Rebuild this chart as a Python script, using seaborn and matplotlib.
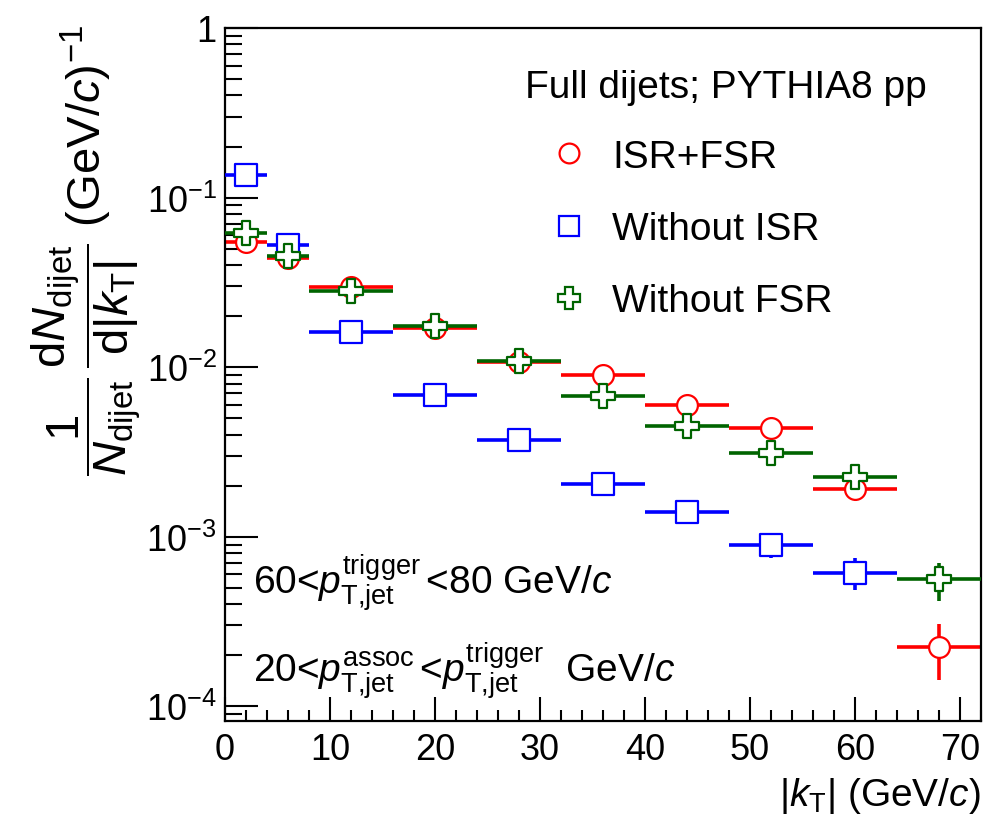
import numpy as np
import pandas as pd
import matplotlib
matplotlib.use("Agg")
import matplotlib.pyplot as plt
import seaborn as sns
from matplotlib.lines import Line2D
from matplotlib.ticker import LogLocator, FuncFormatter, MultipleLocator, NullFormatter

# ---- data ----
bin_edges = [0, 4, 8, 16, 24, 32, 40, 48, 56, 64, 72]
isr_fsr = [0.0544, 0.0441, 0.0299, 0.0170, 0.01066, 0.00901, 0.00597, 0.00437, 0.00192, 0.000224]
isr_fsr_err = [0.0005, 0.0005, 0.0004, 0.0003, 0.0002, 0.0002, 0.00015, 0.00012, 0.00028, 0.00008]
no_isr = [0.136, 0.0527, 0.0161, 0.00684, 0.00372, 0.00204, 0.00140, 0.000895, 0.000615]
no_isr_err = [0.001, 0.0006, 0.0003, 0.00015, 0.0001, 0.00007, 0.00006, 0.00015, 0.00013]
no_fsr = [0.0620, 0.0455, 0.0282, 0.01753, 0.01084, 0.00677, 0.00451, 0.00310, 0.00225, 0.000561]
no_fsr_err = [0.0006, 0.0005, 0.0004, 0.0003, 0.0002, 0.00015, 0.00012, 0.0001, 0.0001, 0.00014]
labels = ["ISR+FSR", "Without ISR", "Without FSR"]
legend_title = "Full dijets; PYTHIA8 pp"

edges = np.array(bin_edges, dtype=float)
centers = 0.5 * (edges[:-1] + edges[1:])
halfw = 0.5 * (edges[1:] - edges[:-1])

sns.set_theme(style="ticks")
plt.rcParams["font.family"] = ["Liberation Sans", "DejaVu Sans"]
plt.rcParams["mathtext.fontset"] = "custom"
plt.rcParams["mathtext.rm"] = "Liberation Sans"
plt.rcParams["mathtext.it"] = "Liberation Sans:italic"
plt.rcParams["mathtext.bf"] = "Liberation Sans:bold"
for key in ["text.color", "axes.labelcolor", "xtick.color", "ytick.color", "axes.edgecolor"]:
    plt.rcParams[key] = "black"

fig = plt.figure(figsize=(9.83, 8.29), dpi=100)
ax = fig.add_axes([225/983, 1-722/829, (981-225)/983, (722-29)/829])

series = [
    (labels[0], isr_fsr, isr_fsr_err, "#ff0000", "o", 15),
    (labels[1], no_isr, no_isr_err, "#0000ff", "s", 15.5),
    (labels[2], no_fsr, no_fsr_err, "#006400", "P", 17),
]
handles = []
for i, (lab, vals, errs, col, mk, ms) in enumerate(series):
    n = len(vals)
    df = pd.DataFrame({"x": centers[:n], "y": vals, "xe": halfw[:n], "ye": errs})
    ax.errorbar(df["x"], df["y"], xerr=df["xe"], yerr=df["ye"], fmt="none",
                ecolor=col, elinewidth=2.6, capsize=0, zorder=2 + i)
    sns.scatterplot(data=df, x="x", y="y", marker=mk, s=ms**2, facecolor="white",
                    edgecolor=col, linewidth=1.6, ax=ax, zorder=3 + i, legend=False)
    handles.append(Line2D([], [], linestyle="none", marker=mk, markersize=ms*0.95,
                          markerfacecolor="white", markeredgecolor=col, markeredgewidth=1.6))

ax.set_yscale("log")
ax.set_xlim(0, 72)
ax.set_ylim(8.2e-5, 1)

def yfmt(v, pos):
    e = int(round(np.log10(v)))
    if e == 0:
        return "1"
    return r"$10^{%d}$" % e

ax.yaxis.set_major_locator(LogLocator(base=10, numticks=10))
ax.yaxis.set_minor_locator(LogLocator(base=10, subs=np.arange(2, 10), numticks=20))
ax.yaxis.set_major_formatter(FuncFormatter(yfmt))
ax.yaxis.set_minor_formatter(NullFormatter())
ax.xaxis.set_major_locator(MultipleLocator(10))
ax.xaxis.set_minor_locator(MultipleLocator(2))

ax.tick_params(axis="both", which="both", direction="in", top=False, right=False, colors="black")
ax.tick_params(axis="y", which="major", length=24, width=1.5, labelsize=26, pad=6)
ax.tick_params(axis="y", which="minor", length=12, width=1.5)
ax.tick_params(axis="x", which="major", length=17, width=1.5, labelsize=26, pad=8)
ax.tick_params(axis="x", which="minor", length=8, width=1.5)
for sp in ax.spines.values():
    sp.set_visible(True)
    sp.set_linewidth(1.6)
    sp.set_color("black")

ax.set_xlabel(r"$|k_{\mathrm{T}}|$ (GeV/$c$)", fontsize=28, loc="right", labelpad=6, color="black")
ax.set_ylabel(r"$\dfrac{1}{N_{\mathrm{dijet}}}\,\dfrac{\mathrm{d}N_{\mathrm{dijet}}}{\mathrm{d}|k_{\mathrm{T}}|}$ (GeV/$c$)$^{-1}$",
              fontsize=34, color="black")
ax.yaxis.set_label_coords(-0.108, 0.68)

ax.text((525-225)/756, (722-88)/693, legend_title, transform=ax.transAxes,
        fontsize=28, va="center", ha="left", color="black")
leg = ax.legend(handles, labels, loc="upper left", bbox_to_anchor=((550-225)/756, (722-140)/693),
                frameon=False, fontsize=28, labelspacing=0.93, handletextpad=0.6,
                handlelength=1.0, borderaxespad=0, borderpad=0, labelcolor="black")

ax.text(0.037, 0.1847, r"60<$p_{\mathrm{T{,}jet}}^{\mathrm{trigger}}$$\,$<80 GeV/$c$",
        transform=ax.transAxes, fontsize=28, va="baseline", ha="left", color="black")
ax.text(0.037, 0.0577, r"20<$p_{\mathrm{T{,}jet}}^{\mathrm{assoc}}$$\,$<$p_{\mathrm{T{,}jet}}^{\mathrm{trigger}}$  GeV/$c$",
        transform=ax.transAxes, fontsize=28, va="baseline", ha="left", color="black")

fig.savefig("out.png", dpi=100, facecolor="white")
